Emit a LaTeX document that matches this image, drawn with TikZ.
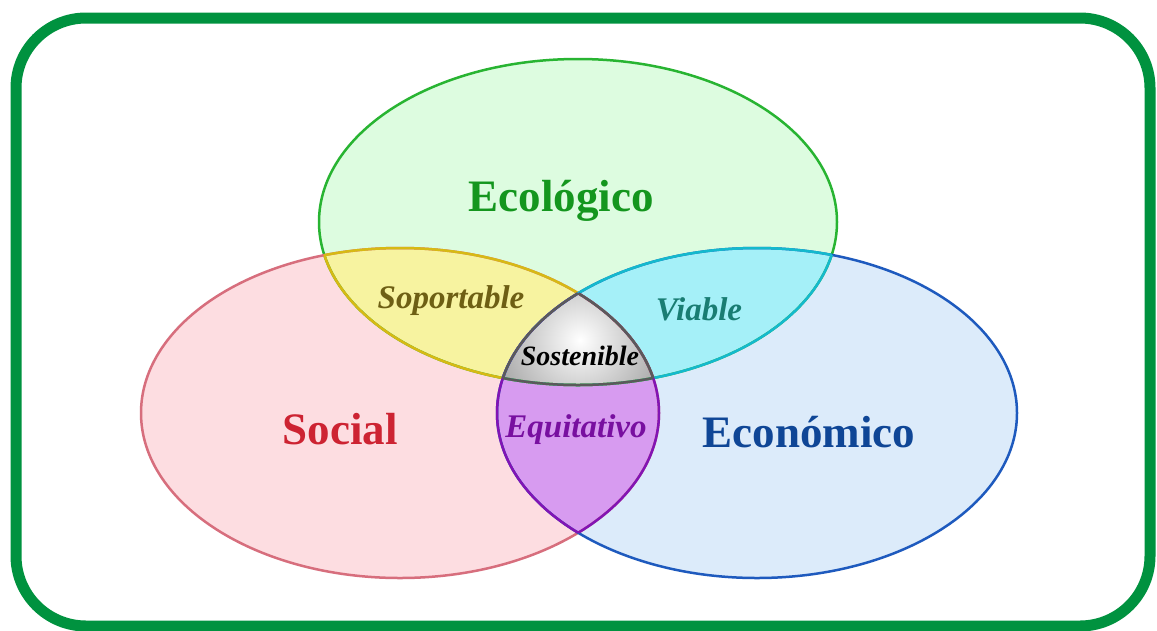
\documentclass[tikz,border=0pt]{standalone}
\usepackage{fontspec}
\setmainfont{Liberation Serif}
\usepackage{tikz}

\definecolor{marco}{RGB}{0,146,63}
\definecolor{ecofill}{RGB}{221,252,224}
\definecolor{ecoline}{RGB}{40,180,50}
\definecolor{ecotext}{RGB}{20,150,30}
\definecolor{socfill}{RGB}{253,221,225}
\definecolor{socline}{RGB}{215,110,125}
\definecolor{soctext}{RGB}{205,35,50}
\definecolor{ecnfill}{RGB}{220,235,250}
\definecolor{ecnline}{RGB}{30,90,190}
\definecolor{ecntext}{RGB}{15,70,150}
\definecolor{amafill}{RGB}{247,243,160}
\definecolor{amaline}{RGB}{215,185,20}
\definecolor{amatext}{RGB}{110,95,20}
\definecolor{cianfill}{RGB}{165,240,248}
\definecolor{cianline}{RGB}{20,185,205}
\definecolor{ciantext}{RGB}{25,125,115}
\definecolor{morfill}{RGB}{215,155,240}
\definecolor{morline}{RGB}{130,20,180}
\definecolor{mortext}{RGB}{120,15,160}
\definecolor{grisline}{RGB}{90,90,90}

\newcommand{\ecopath}{(578,222) ellipse [x radius=259pt, y radius=163pt]}
\newcommand{\socpath}{(400,413) ellipse [x radius=259pt, y radius=165pt]}
\newcommand{\ecnpath}{(757,413) ellipse [x radius=260pt, y radius=165pt]}

\begin{document}
\begin{tikzpicture}[x=1pt,y=-1pt,
    rotulo/.style={anchor=base, font=\bfseries\fontsize{45}{50}\selectfont},
    zona/.style={anchor=base, font=\bfseries\itshape\fontsize{33}{38}\selectfont},
    borde/.style={line width=2.5pt}]
    \useasboundingbox (0,0) rectangle (1157,630);
    \draw[line width=11pt, marco, fill=white, rounded corners=70pt] (16,18) rectangle (1150,626);
    % fondos
    \fill[ecofill] \ecopath;
    \fill[socfill] \socpath;
    \fill[ecnfill] \ecnpath;
    \begin{scope}
        \clip \ecopath;
        \fill[amafill] \socpath;
        \fill[cianfill] \ecnpath;
    \end{scope}
    \begin{scope}
        \clip \socpath;
        \fill[morfill] \ecnpath;
    \end{scope}
    \begin{scope}
        \clip \ecopath; \clip \socpath; \clip \ecnpath;
        \shade[inner color=white, outer color=gray!75] (580,340) circle (95pt);
    \end{scope}
    % bordes
    \draw[borde, ecoline] \ecopath;
    \draw[borde, socline] \socpath;
    \draw[borde, ecnline] \ecnpath;
    \begin{scope} \clip \socpath; \draw[borde, amaline] \ecopath; \end{scope}
    \begin{scope} \clip \ecopath; \draw[borde, amaline] \socpath; \end{scope}
    \begin{scope} \clip \ecnpath; \draw[borde, cianline] \ecopath; \end{scope}
    \begin{scope} \clip \ecopath; \draw[borde, cianline] \ecnpath; \end{scope}
    \begin{scope} \clip \socpath; \draw[borde, morline] \ecnpath; \end{scope}
    \begin{scope} \clip \ecnpath; \draw[borde, morline] \socpath; \end{scope}
    \begin{scope} \clip \socpath; \clip \ecnpath; \draw[borde, grisline] \ecopath; \end{scope}
    \begin{scope} \clip \ecopath; \clip \ecnpath; \draw[borde, grisline] \socpath; \end{scope}
    \begin{scope} \clip \ecopath; \clip \socpath; \draw[borde, grisline] \ecnpath; \end{scope}
    % textos
    \node[rotulo, text=ecotext] (ecologico) at (561,211) {Ecológico};
    \node[rotulo, text=soctext] (social) at (340,444) {Social};
    \node[rotulo, text=ecntext] (economico) at (809,447) {Económico};
    \node[zona, text=amatext] (soportable) at (451,308) {Soportable};
    \node[zona, text=ciantext] (viable) at (699,320) {Viable};
    \node[zona, text=mortext] (equitativo) at (576,437) {Equitativo};
    \node[zona, text=black, font=\bfseries\itshape\fontsize{28}{32}\selectfont] (sostenible) at (580,365) {Sostenible};
\end{tikzpicture}
\end{document}
